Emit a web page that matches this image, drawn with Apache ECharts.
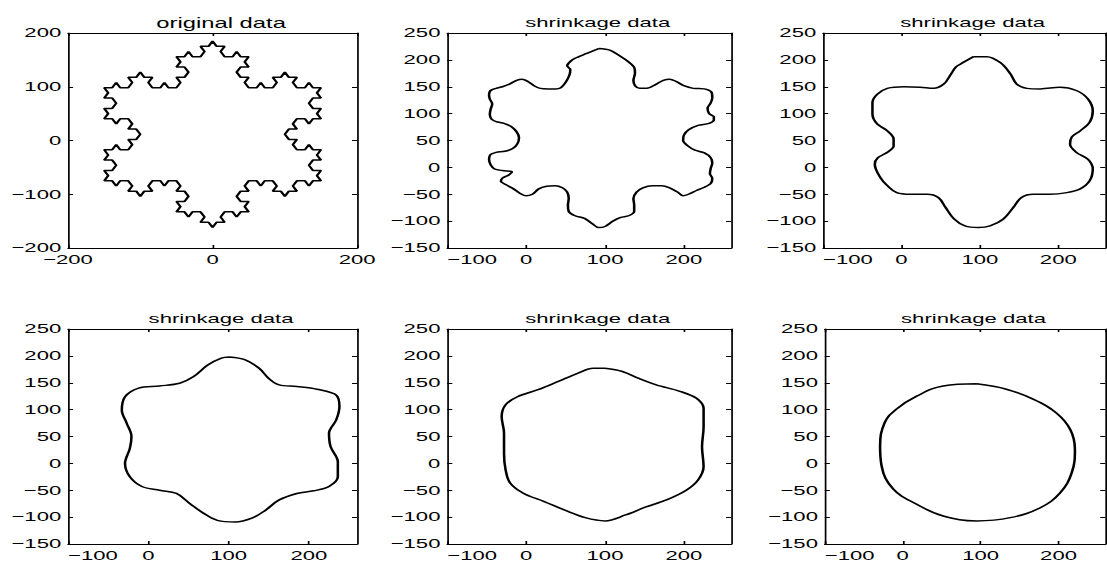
<!DOCTYPE html>
<html>
<head>
<meta charset="utf-8">
<script src="https://cdn.jsdelivr.net/npm/echarts@6/dist/echarts.min.js"></script>
<style>
  html, body { margin: 0; padding: 0; background: #fff; overflow: hidden; }
  /* the scanned figure is stretched sideways, so the chart is drawn narrow and widened */
  #main { width: 651px; height: 565px; transform: scaleX(1.7005); transform-origin: 0 0; }
</style>
</head>
<body>
<div id="main"></div>
<script>
// original data: koch snowflake outline
var origX = [-150,
  -138.9, -133.3, -127.8, -116.7, -111.1, -116.7, -105.6, -100, -94.4, -83.3, -88.9, -83.3, -72.2, -66.7, -61.1, -50,
  -44.4, -50, -38.9, -33.3, -38.9, -50, -44.4, -50, -38.9, -33.3, -27.8, -16.7, -11.1, -16.7, -5.6, 0,
  5.6, 16.7, 11.1, 16.7, 27.8, 33.3, 38.9, 50, 44.4, 50, 38.9, 33.3, 38.9, 50, 44.4, 50,
  61.1, 66.7, 72.2, 83.3, 88.9, 83.3, 94.4, 100, 105.6, 116.7, 111.1, 116.7, 127.8, 133.3, 138.9, 150,
  144.4, 150, 138.9, 133.3, 138.9, 150, 144.4, 150, 138.9, 133.3, 127.8, 116.7, 111.1, 116.7, 105.6, 100,
  105.6, 116.7, 111.1, 116.7, 127.8, 133.3, 138.9, 150, 144.4, 150, 138.9, 133.3, 138.9, 150, 144.4, 150,
  138.9, 133.3, 127.8, 116.7, 111.1, 116.7, 105.6, 100, 94.4, 83.3, 88.9, 83.3, 72.2, 66.7, 61.1, 50,
  44.4, 50, 38.9, 33.3, 38.9, 50, 44.4, 50, 38.9, 33.3, 27.8, 16.7, 11.1, 16.7, 5.6, 0,
  -5.6, -16.7, -11.1, -16.7, -27.8, -33.3, -38.9, -50, -44.4, -50, -38.9, -33.3, -38.9, -50, -44.4, -50,
  -61.1, -66.7, -72.2, -83.3, -88.9, -83.3, -94.4, -100, -105.6, -116.7, -111.1, -116.7, -127.8, -133.3, -138.9, -150,
  -144.4, -150, -138.9, -133.3, -138.9, -150, -144.4, -150, -138.9, -133.3, -127.8, -116.7, -111.1, -116.7, -105.6, -100,
  -105.6, -116.7, -111.1, -116.7, -127.8, -133.3, -138.9, -150, -144.4, -150, -138.9, -133.3, -138.9, -150, -144.4, -150];
var origY = [-75,
  -75, -84.6, -75, -75, -84.6, -94.2, -94.2, -103.9, -94.2, -94.2, -84.6, -75, -75, -84.6, -75, -75,
  -84.6, -94.2, -94.2, -103.9, -113.5, -113.5, -123.1, -132.7, -132.7, -142.4, -132.7, -132.7, -142.4, -152, -152, -161.6,
  -152, -152, -142.4, -132.7, -132.7, -142.4, -132.7, -132.7, -123.1, -113.5, -113.5, -103.9, -94.2, -94.2, -84.6, -75,
  -75, -84.6, -75, -75, -84.6, -94.2, -94.2, -103.9, -94.2, -94.2, -84.6, -75, -75, -84.6, -75, -75,
  -65.4, -55.8, -55.8, -46.1, -36.5, -36.5, -26.9, -17.3, -17.3, -7.6, -17.3, -17.3, -7.6, 2.0, 2.0, 11.6,
  21.2, 21.2, 30.9, 40.5, 40.5, 30.9, 40.5, 40.5, 50.1, 59.7, 59.7, 69.3, 79.0, 79.0, 88.6, 98.2,
  98.2, 107.8, 98.2, 98.2, 107.8, 117.5, 117.5, 127.1, 117.5, 117.5, 107.8, 98.2, 98.2, 107.8, 98.2, 98.2,
  107.8, 117.5, 117.5, 127.1, 136.7, 136.7, 146.3, 155.9, 155.9, 165.6, 155.9, 155.9, 165.6, 175.2, 175.2, 184.8,
  175.2, 175.2, 165.6, 155.9, 155.9, 165.6, 155.9, 155.9, 146.3, 136.7, 136.7, 127.1, 117.5, 117.5, 107.8, 98.2,
  98.2, 107.8, 98.2, 98.2, 107.8, 117.5, 117.5, 127.1, 117.5, 117.5, 107.8, 98.2, 98.2, 107.8, 98.2, 98.2,
  88.6, 79.0, 79.0, 69.3, 59.7, 59.7, 50.1, 40.5, 40.5, 30.9, 40.5, 40.5, 30.9, 21.2, 21.2, 11.6,
  2.0, 2.0, -7.6, -17.3, -17.3, -7.6, -17.3, -17.3, -26.9, -36.5, -36.5, -46.1, -55.8, -55.8, -65.4, -75];

// shrinkage steps (clockwise from the top)
var shrink1X = [92, 106, 118, 130, 137, 138, 136, 138, 144, 153, 164, 174, 182, 190, 200, 212, 226, 235, 236, 234, 230, 232, 238, 238, 232, 218, 206, 200, 199, 205, 214, 226, 234, 236, 234, 233, 236, 234, 226, 216, 206, 199, 192, 182, 172, 160, 148, 140, 136, 137, 137, 130, 120, 110, 100, 92, 84, 74, 62, 54, 53, 54, 52, 46, 37, 26, 16, 8, 0, -8, -16, -26, -32, -30, -22, -18, -30, -40, -45, -47, -45, -38, -27, -17, -11, -9, -12, -19, -28, -38, -44, -46, -45, -43, -46, -47, -45, -38, -30, -21, -12, -5, 2, 10, 18, 28, 37, 44, 50, 55, 56, 52, 56, 62, 75, 92];
var shrink1Y = [221, 218, 208, 196, 186, 175, 162, 152, 147, 147, 154, 162, 164, 160, 152, 147, 146, 140, 130, 120, 110, 100, 94, 88, 82, 78, 70, 60, 50, 40, 32, 27, 18, 8, -2, -12, -20, -30, -37, -43, -50, -53, -46, -38, -34, -34, -38, -46, -58, -70, -82, -90, -93, -100, -110, -112, -105, -95, -90, -82, -70, -58, -46, -38, -34, -35, -40, -50, -53, -48, -40, -32, -26, -20, -14, -8, -6, -3, 5, 15, 24, 28, 30, 35, 44, 55, 66, 76, 82, 85, 90, 99, 108, 118, 127, 135, 143, 147, 150, 155, 162, 164, 160, 152, 147, 146, 146, 148, 158, 172, 182, 189, 197, 203, 211, 221];

var shrink2X = [92, 109, 126, 139, 147, 160, 177, 202, 223, 238, 244, 240, 228, 217, 215, 223, 238, 244, 240, 228, 211, 189, 168, 153, 143, 130, 113, 98, 81, 67, 56, 47, 33, 11, -6, -18, -27, -34, -30, -18, -10, -10, -18, -31, -37, -37, -31, -18, 3, 24, 41, 54, 62, 69, 75, 92];
var shrink2Y = [206, 206, 195, 174, 155, 147, 146, 149, 143, 127, 105, 84, 68, 56, 43, 28, 15, -3, -25, -40, -47, -50, -50, -56, -74, -96, -109, -112, -109, -96, -74, -56, -50, -50, -47, -34, -19, 6, 18, 28, 40, 53, 68, 81, 99, 121, 136, 147, 150, 149, 147, 155, 171, 186, 192, 206];

var shrink3X = [101, 120, 138, 150, 163, 185, 210, 234, 238, 234, 225, 227, 236, 236, 225, 206, 185, 163, 146, 129, 108, 86, 69, 52, 35, 14, -8, -23, -29, -23, -21, -27, -33, -29, -12, 14, 39, 56, 74, 91, 101];
var shrink3Y = [198, 193, 177, 158, 146, 143, 138, 127, 106, 81, 56, 31, 3, -25, -43, -51, -56, -68, -87, -102, -109, -106, -93, -75, -56, -50, -43, -25, 0, 28, 50, 75, 99, 124, 140, 144, 149, 161, 183, 196, 198];

var shrink4X = [100, 122, 143, 165, 195, 216, 225, 225, 223, 225, 218, 203, 178, 152, 126, 100, 75, 49, 23, -3, -20, -26, -28, -28, -31, -26, -11, 15, 40, 66, 85, 100];
var shrink4Y = [177, 171, 158, 146, 134, 121, 102, 68, 31, -6, -31, -50, -68, -81, -96, -107, -101, -87, -71, -56, -37, -12, 19, 56, 87, 109, 124, 137, 152, 168, 177, 177];

var shrink5X = [95, 133, 168, 197, 215, 221, 217, 202, 176, 138, 95, 52, 18, -12, -27, -29, -23, -8, 18, 52, 95];
var shrink5Y = [148, 138, 119, 94, 63, 26, -17, -55, -83, -101, -107, -98, -76, -48, -5, 32, 76, 101, 125, 144, 148];

// axis ticks
var origXTicks = { min: -200, max: 200, interval: 200 };
var origYTicks = { min: -200, max: 200, interval: 100 };
var shrinkXTicks = { min: -100, max: 260, interval: 100 };
var shrinkYTicks = { min: -150, max: 250, interval: 50 };

var titles = ['original data', 'shrinkage data', 'shrinkage data', 'shrinkage data', 'shrinkage data', 'shrinkage data'];

function pairs(xs, ys) {
    var out = [];
    for (var i = 0; i < xs.length; i++) out.push([xs[i], ys[i]]);
    return out;
}

var panels = [
    { x: origX, y: origY, xt: origXTicks, yt: origYTicks, smooth: false, minLeft: false, tSize: 14 },
    { x: shrink1X, y: shrink1Y, xt: shrinkXTicks, yt: shrinkYTicks, smooth: 0.3, minLeft: true, tSize: 13 },
    { x: shrink2X, y: shrink2Y, xt: shrinkXTicks, yt: shrinkYTicks, smooth: 0.35, minLeft: true, tSize: 13 },
    { x: shrink3X, y: shrink3Y, xt: shrinkXTicks, yt: shrinkYTicks, smooth: 0.35, minLeft: true, tSize: 13 },
    { x: shrink4X, y: shrink4Y, xt: shrinkXTicks, yt: shrinkYTicks, smooth: 0.35, minLeft: true, tSize: 13 },
    { x: shrink5X, y: shrink5Y, xt: shrinkXTicks, yt: shrinkYTicks, smooth: 0.4, minLeft: true, tSize: 13 }
];

// grid boxes in the narrow (unstretched) frame
var boxes = [
    { left: 40, top: 33, width: 170, height: 215 },
    { left: 263, top: 33, width: 167, height: 215 },
    { left: 484, top: 33, width: 166, height: 215 },
    { left: 40, top: 329, width: 170, height: 215 },
    { left: 263, top: 329, width: 167, height: 215 },
    { left: 485, top: 329, width: 165, height: 215 }
];

var fontFam = 'Liberation Sans, Arial, sans-serif';
function minus(v) { return String(v).replace('-', '\u2212'); }

var option = {
    animation: false,
    backgroundColor: '#fff',
    title: [], grid: [], xAxis: [], yAxis: [], series: []
};

panels.forEach(function(p, i) {
    var b = boxes[i];
    option.grid.push({ left: b.left, top: b.top, width: b.width, height: b.height, containLabel: false });
    option.title.push({
        text: titles[i],
        left: b.left + b.width / 2,
        top: b.top - 22,
        textAlign: 'center',
        textStyle: { fontFamily: fontFam, fontSize: p.tSize, fontWeight: 'normal', color: '#000' }
    });
    var lineSt = { show: true, onZero: false, lineStyle: { color: '#000', width: 1 } };
    var tickSt = { show: true, inside: true, length: 3, lineStyle: { color: '#000', width: 1 } };
    // bottom and top x axes
    option.xAxis.push({
        type: 'value', gridIndex: i, position: 'bottom',
        min: p.xt.min, max: p.xt.max, interval: p.xt.interval,
        axisLine: lineSt, axisTick: tickSt, splitLine: { show: false },
        axisLabel: {
            color: '#000', fontFamily: fontFam, fontSize: 13, margin: 5,
            showMaxLabel: p.xt.max % p.xt.interval === 0,
            alignMinLabel: p.minLeft ? 'left' : 'center',
            formatter: minus
        }
    });
    option.xAxis.push({
        type: 'value', gridIndex: i, position: 'top',
        min: p.xt.min, max: p.xt.max, interval: p.xt.interval,
        axisLine: lineSt, axisTick: tickSt, splitLine: { show: false },
        axisLabel: { show: false }
    });
    // left and right y axes
    option.yAxis.push({
        type: 'value', gridIndex: i, position: 'left',
        min: p.yt.min, max: p.yt.max, interval: p.yt.interval,
        axisLine: lineSt, axisTick: tickSt, splitLine: { show: false },
        axisLabel: { color: '#000', fontFamily: fontFam, fontSize: 13, margin: 4, formatter: minus }
    });
    option.yAxis.push({
        type: 'value', gridIndex: i, position: 'right',
        min: p.yt.min, max: p.yt.max, interval: p.yt.interval,
        axisLine: lineSt, axisTick: tickSt, splitLine: { show: false },
        axisLabel: { show: false }
    });
    option.series.push({
        type: 'line',
        xAxisIndex: i * 2,
        yAxisIndex: i * 2,
        data: pairs(p.x, p.y),
        showSymbol: false,
        smooth: p.smooth,
        lineStyle: { color: '#000', width: 1.5 }
    });
});

var chart = echarts.init(document.getElementById('main'), null, { renderer: 'svg' });
chart.setOption(option);
</script>
</body>
</html>
